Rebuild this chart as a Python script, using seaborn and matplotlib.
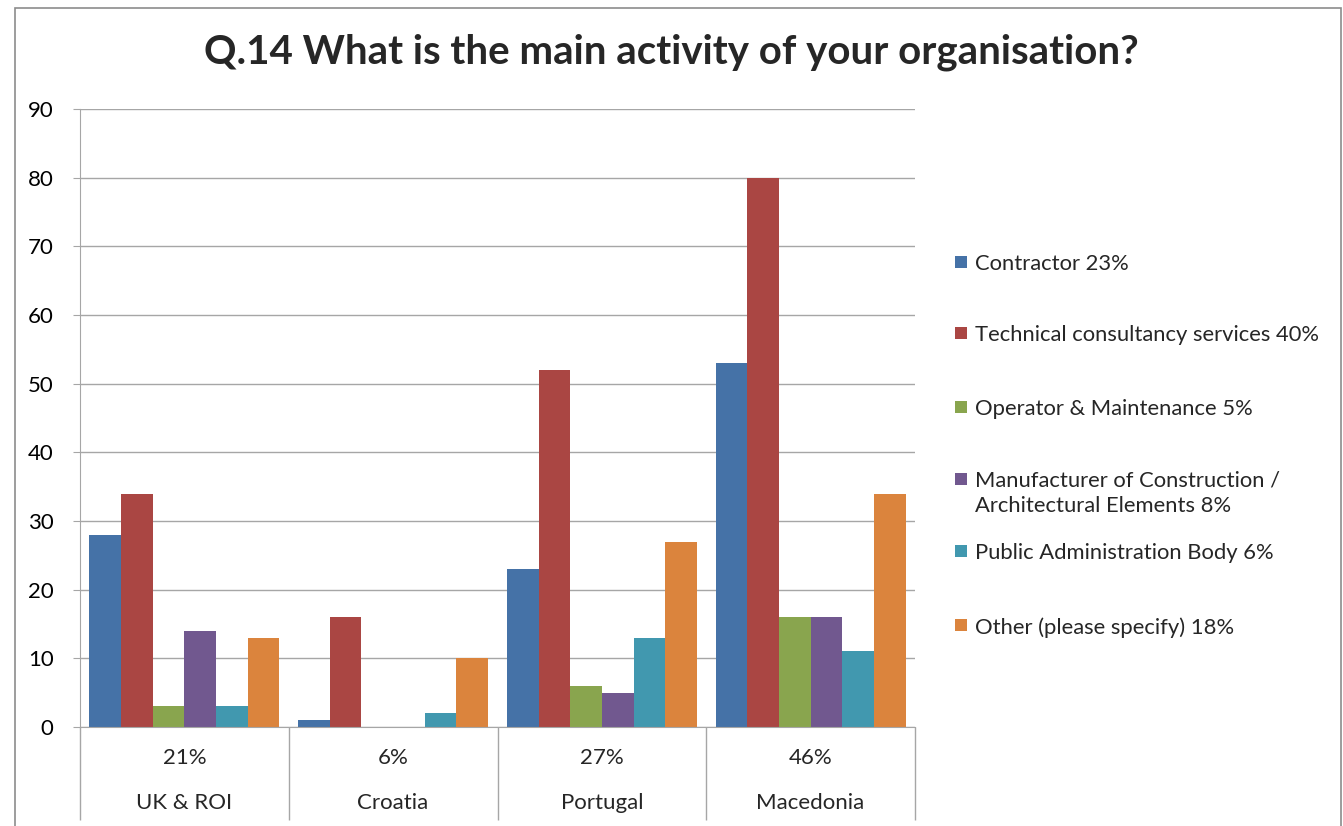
import pandas as pd
import matplotlib
matplotlib.use("Agg")
import matplotlib.pyplot as plt
import matplotlib.patches as mpatches
import seaborn as sns

# Chart data
countries = ["UK & ROI", "Croatia", "Portugal", "Macedonia"]
country_share = ["21%", "6%", "27%", "46%"]
activities = [
    "Contractor 23%",
    "Technical consultancy services 40%",
    "Operator & Maintenance 5%",
    "Manufacturer of Construction /\nArchitectural Elements 8%",
    "Public Administration Body 6%",
    "Other (please specify) 18%",
]
contractor = [28, 1, 23, 53]
technical = [34, 16, 52, 80]
operator = [3, 0, 6, 16]
manufacturer = [14, 0, 5, 16]
public_admin = [3, 2, 13, 11]
other = [13, 10, 27, 34]
colors = ["#4572A7", "#AA4643", "#89A54E", "#71588F", "#4198AF", "#DB843D"]

series = [contractor, technical, operator, manufacturer, public_admin, other]
rows = []
for act, vals in zip(activities, series):
    for c, v in zip(countries, vals):
        rows.append({"Country": c, "Activity": act, "Count": v})
df = pd.DataFrame(rows)

sns.set_style("white")
plt.rcParams["font.family"] = ["Lato", "DejaVu Sans"]

W, H = 1343, 826
fig = plt.figure(figsize=(W / 100, H / 100), dpi=100)
ax = fig.add_axes([80 / W, 1 - 727 / H, (915 - 80) / W, (727 - 109) / H])

sns.barplot(data=df, x="Country", y="Count", hue="Activity", hue_order=activities,
            order=countries, palette=colors, saturation=1, width=0.91, ax=ax,
            linewidth=0, legend=False)

grid_col = "#A6A6A6"
ax.set_ylim(0, 90)
ax.set_xlim(-0.5, 3.5)
ax.set_yticks(range(0, 91, 10))
ax.yaxis.grid(True, color=grid_col, linewidth=1)
ax.set_axisbelow(True)
ax.tick_params(axis="y", labelsize=16, colors="black", length=5, color=grid_col,
               left=True, pad=14)
for s in ["top", "right"]:
    ax.spines[s].set_visible(False)
for s in ["left", "bottom"]:
    ax.spines[s].set_color(grid_col)
ax.set_xlabel("")
ax.set_ylabel("")

# category axis: separators as long ticks, two-level labels on minor ticks
ax.set_xticks([-0.5, 0.5, 1.5, 2.5, 3.5])
ax.set_xticklabels([])
ax.tick_params(axis="x", which="major", length=67, width=1, color=grid_col, bottom=True)
ax.set_xticks(range(len(countries)), minor=True)
ax.set_xticklabels([f"{p}\n{c}" for p, c in zip(country_share, countries)],
                   minor=True, fontsize=16, linespacing=2.55)
ax.tick_params(axis="x", which="minor", length=0, pad=15)

fig.text(0.5, 1 - 52 / H, "Q.14 What is the main activity of your organisation?",
         ha="center", va="center", fontsize=29, fontweight="bold")

# legend, laid out like the Excel one (marker level with the first text line)
legend_y = [262, 333, 407, 479, 551, 625]
for col, lab, yp in zip(colors, activities, legend_y):
    fig.patches.append(mpatches.Rectangle((955 / W, 1 - (yp + 6) / H), 12 / W, 12 / H,
                                          transform=fig.transFigure, facecolor=col,
                                          edgecolor="none"))
    fig.text(975 / W, 1 - (yp - 8) / H, lab, ha="left", va="top", fontsize=15.8,
             linespacing=1.3)

fig.patches.append(mpatches.Rectangle((15 / W, -0.02), (1341 - 15) / W, 1.02 - 8 / H,
                                      transform=fig.transFigure, fill=False,
                                      edgecolor="#8C8C8C", linewidth=1.2))

plt.savefig("out.png", dpi=100)
